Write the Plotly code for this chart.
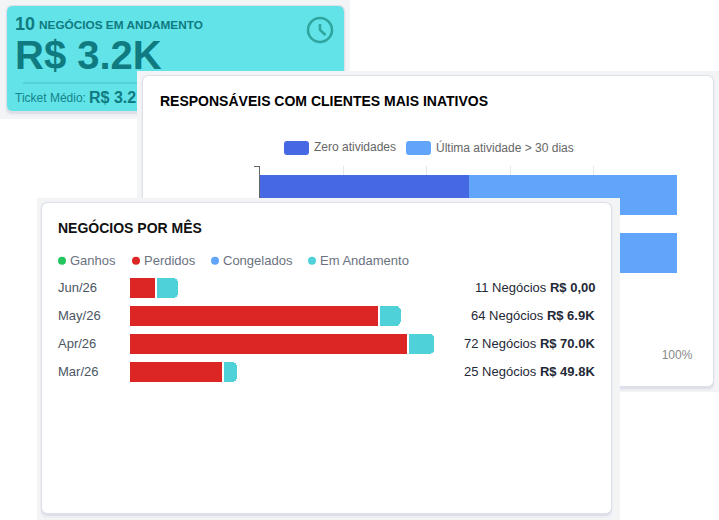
import plotly.graph_objects as go

# ---- data ----
resp_cats = ["Responsável A", "Responsável B", "Responsável C"]
zero_atividades = [50, 50, None]
ultima_atividade = [50, 50, None]
pct_ticks = [0, 20, 40, 60, 80, 100]
pct_labels = ["", "", "", "", "", "100%"]  # the other labels sit behind the front card

meses = ["Jun/26", "May/26", "Apr/26", "Mar/26"]
perdidos = [6, 59, 66, 22]
em_andamento = [5, 5, 6, 3]
negocios = [11, 64, 72, 25]
valores = ["R$ 0,00", "R$ 6.9K", "R$ 70.0K", "R$ 49.8K"]

W, H = 719, 520
FONT = "Liberation Sans"
TEAL = "#0f7a80"
PX_PER_DEAL = 4.2
GAP = 2 / PX_PER_DEAL


def px(x):
    return x / W


def py(y):
    return 1 - y / H


# chart 3 subplot spans its whole grey backdrop so that its panel can hide chart 2's bars
B3 = (37, 198, 620, 520)
ROW0, ROWH = 288, 28


def dx3(x):
    return (x - 130) / PX_PER_DEAL


def dy3(y):
    return (y - ROW0) / ROWH


def rr(x0, y0, x1, y1, r, fx=px, fy=py):
    p = [(x0 + r, y0), (x1 - r, y0), (x1, y0), (x1, y0 + r), (x1, y1 - r), (x1, y1), (x1 - r, y1),
         (x0 + r, y1), (x0, y1), (x0, y1 - r), (x0, y0 + r), (x0, y0), (x0 + r, y0)]
    c = [(fx(a), fy(b)) for a, b in p]
    f = lambda t: f"{t[0]:.6f},{t[1]:.6f}"
    return (f"M{f(c[0])} L{f(c[1])} Q{f(c[2])} {f(c[3])} L{f(c[4])} Q{f(c[5])} {f(c[6])} "
            f"L{f(c[7])} Q{f(c[8])} {f(c[9])} L{f(c[10])} Q{f(c[11])} {f(c[12])} Z")


def paper_rr(x0, y0, x1, y1, r, color, layer="below"):
    return dict(type="path", path=rr(x0, y0, x1, y1, r), xref="paper", yref="paper",
                fillcolor=color, line=dict(width=0), layer=layer)


def sub_rr(x0, y0, x1, y1, r, color):
    return dict(type="path", path=rr(x0, y0, x1, y1, r, dx3, dy3), xref="x2", yref="y2",
                fillcolor=color, line=dict(width=0), layer="below")


def card(x0, y0, x1, y1, color="#ffffff", r=6, f=paper_rr):
    return [f(x0 - 2, y0 - 1, x1 + 2, y1 + 5, r + 2, "#eceef2"),
            f(x0 - 1, y0 - 1, x1 + 1, y1 + 3, r + 1, "#dde0e9"),
            f(x0, y0, x1, y1, r, color)]


shapes = []
# KPI card
shapes.append(dict(type="rect", xref="paper", yref="paper", x0=px(0), x1=px(350), y0=py(119), y1=py(0),
                   fillcolor="#f3f4f6", line=dict(width=0), layer="below"))
shapes += card(7, 6, 344, 111, "#61e3e8")
shapes.append(dict(type="line", xref="paper", yref="paper", x0=px(23), x1=px(330), y0=py(83), y1=py(83),
                   line=dict(color="#4fc3c6", width=1), layer="below"))
shapes.append(dict(type="circle", xref="paper", yref="paper", x0=px(308), x1=px(332), y0=py(42), y1=py(18),
                   line=dict(color="#2fa59e", width=2.5), layer="below"))
shapes.append(dict(type="path", xref="paper", yref="paper", layer="below",
                   path=f"M{px(320)},{py(24)} L{px(320)},{py(30)} L{px(325.5)},{py(35)}",
                   line=dict(color="#2fa59e", width=2.5)))
# chart 2 card
shapes.append(dict(type="rect", xref="paper", yref="paper", x0=px(137), x1=px(719), y0=py(392), y1=py(71),
                   fillcolor="#f3f4f6", line=dict(width=0), layer="below"))
shapes += card(143, 76, 713, 386)
shapes.append(paper_rr(284, 141, 309, 155, 3, "#4669e3"))
shapes.append(paper_rr(406, 141, 431, 155, 3, "#60a5fa"))
# chart 3 card lives in the x2y2 subplot, above chart 2's traces
shapes.append(dict(type="rect", xref="x2", yref="y2", x0=dx3(B3[0]), x1=dx3(B3[2]), y0=dy3(B3[1]), y1=dy3(B3[3]),
                   fillcolor="#f3f4f6", line=dict(width=0), layer="below"))
shapes += card(42, 203, 611, 513, f=sub_rr)
for cx, col in [(62, "#22c55e"), (136, "#dc2626"), (215, "#60a5fa"), (312, "#4fd1d9")]:
    shapes.append(dict(type="circle", xref="paper", yref="paper", x0=px(cx - 4), x1=px(cx + 4),
                       y0=py(264.7), y1=py(256.7), fillcolor=col, line=dict(width=0), layer="above"))


def ann(x, y, text, size, color, anchor="left"):
    return dict(x=px(x - 1), y=py(y), xref="paper", yref="paper", text=text, showarrow=False,
                xanchor=anchor, yanchor="middle", borderpad=0,
                font=dict(family=FONT, size=size, color=color))


annotations = [
    ann(15, 24, "<b>10</b>", 18, TEAL),
    ann(39, 25, "<b>NEGÓCIOS EM ANDAMENTO</b>", 11.8, TEAL),
    ann(15, 55, "<b>R$ 3.2K</b>", 40, TEAL),
    ann(15, 98, "Ticket Médio:", 12, "#14858a"),
    ann(89, 97, "<b>R$ 3.2</b>", 16, TEAL),
    ann(160, 101, "<b>RESPONSÁVEIS COM CLIENTES MAIS INATIVOS</b>", 14, "#000000"),
    ann(314, 147, "Zero atividades", 12, "#666666"),
    ann(436, 147, "Última atividade &gt; 30 dias", 12, "#666666"),
    ann(58, 227.5, "<b>NEGÓCIOS POR MÊS</b>", 14, "#111111"),
    ann(70, 260, "Ganhos", 13, "#6b7280"),
    ann(144, 260, "Perdidos", 13, "#6b7280"),
    ann(223, 260, "Congelados", 13, "#6b7280"),
    ann(320, 260, "Em Andamento", 13, "#6b7280"),
]
for m, n, v in zip(meses, negocios, valores):
    annotations.append(dict(x=px(595.5), xref="paper", y=m, yref="y2", showarrow=False, xanchor="right",
                            yanchor="middle", borderpad=0, text=f"{n} Negócios <b>{v}</b>", yshift=1,
                            font=dict(family=FONT, size=13, color="#1f2937")))

fig = go.Figure()
fig.add_bar(name="Zero atividades", y=resp_cats, x=zero_atividades, orientation="h",
            marker_color="#4669e3", width=40 / 58, xaxis="x", yaxis="y")
fig.add_bar(name="Última atividade > 30 dias", y=resp_cats, x=ultima_atividade,
            orientation="h", marker_color="#60a5fa", width=40 / 58, xaxis="x", yaxis="y")
fig.add_bar(name="Perdidos", y=meses, x=perdidos, orientation="h", marker_color="#dc2626",
            width=20 / ROWH, xaxis="x2", yaxis="y2")
fig.add_bar(name="", y=meses, x=[GAP] * len(meses), orientation="h", marker_color="rgba(0,0,0,0)",
            width=20 / ROWH, xaxis="x2", yaxis="y2", hoverinfo="skip")
fig.add_bar(name="Em Andamento", y=meses, x=em_andamento, orientation="h",
            marker=dict(color="#4fd1d9", cornerradius=5), width=20 / ROWH, xaxis="x2", yaxis="y2")

fig.update_layout(
    template="none",
    width=W, height=H, autosize=False, margin=dict(l=0, r=0, t=0, b=0, pad=0),
    paper_bgcolor="#ffffff", plot_bgcolor="rgba(0,0,0,0)", barmode="stack", showlegend=False,
    font=dict(family=FONT), shapes=shapes, annotations=annotations,
    xaxis=dict(domain=[px(260), px(677)], range=[0, 100], tickvals=pct_ticks, ticktext=pct_labels,
               showgrid=True, gridcolor="#e5e7eb", gridwidth=1, zeroline=False, showline=False, ticks="",
               ticklabelstandoff=6,
               tickfont=dict(size=12, color="#888888", family=FONT), anchor="y", automargin=False),
    yaxis=dict(domain=[py(340), py(166)], type="category", categoryorder="array", categoryarray=resp_cats,
               range=[2.5, -0.5], showticklabels=False, ticks="outside", ticklen=5, tickcolor="#666666",
               tickson="boundaries", showline=True, linecolor="#666666", showgrid=False, zeroline=False,
               anchor="x", automargin=False),
    xaxis2=dict(domain=[px(B3[0]), px(B3[2])], range=[dx3(B3[0]), dx3(B3[2])], visible=False, anchor="y2",
                automargin=False),
    yaxis2=dict(domain=[py(B3[3]), py(B3[1])], type="category", categoryorder="array", categoryarray=meses,
                range=[dy3(B3[3]), dy3(B3[1])], showgrid=False, zeroline=False, showline=False, ticks="",
                ticklabelposition="inside", ticklabelstandoff=18, ticklabelshift=1, automargin=False,
                tickfont=dict(size=13, color="#4b5563", family=FONT), anchor="x2"),
)

fig.write_html("out.html", config=dict(displayModeBar=False),
               post_script="document.body.style.margin='0';document.documentElement.style.overflow='hidden';")
